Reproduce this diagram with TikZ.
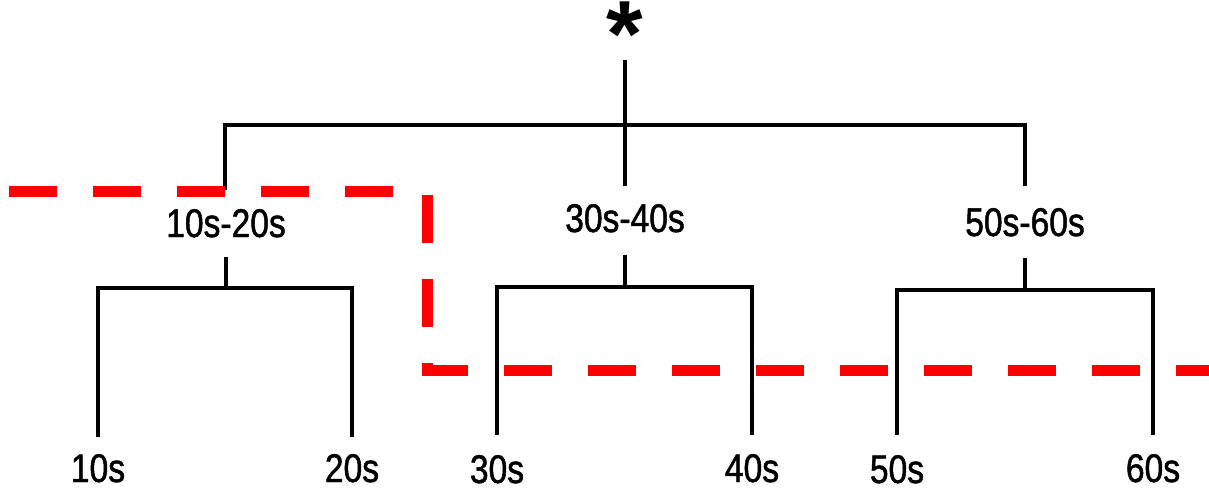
\documentclass[tikz,border=0pt]{standalone}
\usepackage{fontspec}
\setmainfont{Liberation Sans}[FakeStretch=0.84,FakeBold=1.2]
\newfontfamily\starfont{Liberation Sans Bold}
\begin{document}
\begin{tikzpicture}[x=1pt,y=-1pt,
  tree/.style={line width=4pt,black},
  cut/.style={line width=11pt,red,dash pattern=on 48pt off 36pt},
  lbl/.style={anchor=base,inner sep=0pt,font=\fontsize{40}{40}\selectfont}]
\useasboundingbox (0,0) rectangle (1209,490);

% root
\node[inner sep=0pt,anchor=north,font=\starfont\fontsize{94}{94}\selectfont] (root) at (625,2) {*};

% group labels
\node[lbl] (g1) at (226,237) {10s-20s};
\node[lbl] (g2) at (625,232) {30s-40s};
\node[lbl] (g3) at (1025,236) {50s-60s};

% leaf labels
\node[lbl] (l1) at (98,482) {10s};
\node[lbl] (l2) at (352,482) {20s};
\node[lbl] (l3) at (497,483) {30s};
\node[lbl] (l4) at (752,482) {40s};
\node[lbl] (l5) at (897,483) {50s};
\node[lbl] (l6) at (1153,482) {60s};

% top level branches
\coordinate (rtop) at (625,60);
\draw[tree] (rtop) -- (625,186);
\draw[tree] (225,190) -- (225,125) -- (1025,125) -- (1025,186);

% 10s-20s subtree
\draw[tree] (226,257) -- (226,288);
\draw[tree] (98,437) -- (98,288) -- (352,288) -- (352,437);

% 30s-40s subtree
\draw[tree] (625,255) -- (625,287);
\draw[tree] (497,435) -- (497,287) -- (752,287) -- (752,435);

% 50s-60s subtree
\draw[tree] (1025,258) -- (1025,290);
\draw[tree] (897,435) -- (897,290) -- (1153,290) -- (1153,435);

% dashed cut line
\draw[cut] (9,191) -- (400,191);
\draw[cut] (427,195) -- (427,370) -- (1209,370);
\end{tikzpicture}
\end{document}
